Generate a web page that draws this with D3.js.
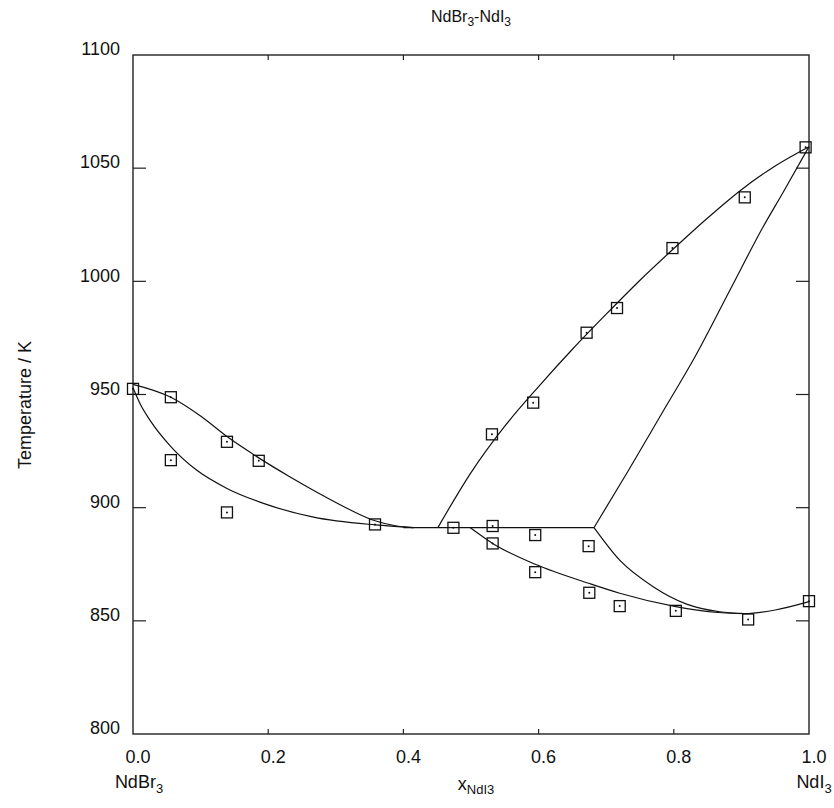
<!DOCTYPE html>
<html><head><meta charset="utf-8">
<script src="https://cdn.jsdelivr.net/npm/d3@7"></script>
<style>
html,body{margin:0;padding:0;background:#fff;}
svg text{font-family:"Liberation Sans",Arial,Helvetica,sans-serif;fill:#111;}
</style></head>
<body><svg id="c" width="834" height="808"></svg>
<script>
// ---- data ----
const xTicks = [0.0, 0.2, 0.4, 0.6, 0.8, 1.0];
const yTicks = [800, 850, 900, 950, 1000, 1050, 1100];

// experimental points
const expX = [0.0, 0.056, 0.056, 0.139, 0.139, 0.186, 0.358, 0.474, 0.531, 0.532, 0.532, 0.592, 0.595, 0.595,
              0.671, 0.674, 0.675, 0.716, 0.720, 0.798, 0.803, 0.905, 0.910, 0.995, 1.0];
const expT = [952.5, 948.8, 921.0, 929.1, 897.9, 920.7, 892.6, 891.1, 932.4, 891.9, 884.2, 946.4, 887.9, 871.5,
              977.3, 883.0, 862.4, 988.2, 856.5, 1014.7, 854.4, 1037.1, 850.6, 1059.2, 858.7];

// left liquidus
const liqLX = [0.0, 0.056, 0.10, 0.139, 0.186, 0.23, 0.272, 0.318, 0.358, 0.39, 0.415];
const liqLT = [954.5, 948.8, 940.5, 931.4, 922.0, 914.0, 906.8, 899.5, 894.2, 891.9, 891.2];
// left solidus
const solLX = [0.0, 0.012, 0.025, 0.056, 0.094, 0.139, 0.193, 0.267, 0.358, 0.415];
const solLT = [953.0, 945.0, 938.7, 927.0, 916.6, 908.5, 901.9, 895.8, 892.4, 891.2];
// eutectic / peritectic horizontal
const hLineX = [0.40, 0.682];
const hLineT = [891.2, 891.2];
// right liquidus (upper)
const liqRX = [0.451, 0.50, 0.55, 0.60, 0.65, 0.70, 0.75, 0.80, 0.85, 0.90, 0.95, 1.0];
const liqRT = [891.2, 915.5, 936.0, 953.5, 970.0, 985.5, 1000.5, 1014.5, 1028.0, 1040.5, 1051.0, 1059.5];
// right solidus (upper)
const solRX = [0.682, 0.732, 0.782, 0.832, 0.882, 0.932, 0.962, 1.0];
const solRT = [891.2, 916.0, 941.5, 967.0, 995.5, 1024.0, 1039.5, 1059.5];
// lower curve (liquidus of low-T solution)
const lowX = [0.4985, 0.532, 0.595, 0.674, 0.72, 0.803, 0.86, 0.905, 0.95, 1.0];
const lowT = [891.2, 884.2, 875.0, 866.6, 862.2, 856.3, 853.8, 853.2, 854.8, 858.5];
// solvus from peritectic down to minimum
const solvX = [0.682, 0.72, 0.77, 0.819, 0.868, 0.905];
const solvT = [891.2, 876.8, 865.0, 857.4, 854.0, 853.2];

const curves = [[liqLX, liqLT], [solLX, solLT], [hLineX, hLineT], [liqRX, liqRT], [solRX, solRT], [lowX, lowT], [solvX, solvT]];

// ---- drawing ----
const svg = d3.select("#c");
const L = 133, R = 809, T = 55, B = 734;
const x = d3.scaleLinear().domain([0, 1]).range([L, R]);
const y = d3.scaleLinear().domain([800, 1100]).range([B, T]);

// frame
svg.append("rect").attr("x", L).attr("y", T).attr("width", R - L).attr("height", B - T)
  .attr("fill", "none").attr("stroke", "#222").attr("stroke-width", 1.4);

// y ticks (inward, both sides)
const yt = yTicks.filter(d => d > 800 && d < 1100);
svg.selectAll(".ytl").data(yt).enter().append("line")
  .attr("x1", L).attr("x2", L + 13).attr("y1", d => y(d)).attr("y2", d => y(d))
  .attr("stroke", "#222").attr("stroke-width", 1.2);
svg.selectAll(".ytr").data(yt).enter().append("line")
  .attr("x1", R).attr("x2", R - 13).attr("y1", d => y(d)).attr("y2", d => y(d))
  .attr("stroke", "#222").attr("stroke-width", 1.2);
// x ticks
const xt = xTicks.filter(d => d > 0 && d < 1);
svg.selectAll(".xtt").data(xt).enter().append("line")
  .attr("x1", d => x(d)).attr("x2", d => x(d)).attr("y1", T).attr("y2", T + 5)
  .attr("stroke", "#222").attr("stroke-width", 1.2);
svg.selectAll(".xtb").data(xt).enter().append("line")
  .attr("x1", d => x(d)).attr("x2", d => x(d)).attr("y1", B).attr("y2", B - 5)
  .attr("stroke", "#222").attr("stroke-width", 1.2);

// tick labels
svg.selectAll(".yl").data(yTicks).enter().append("text")
  .attr("x", 120).attr("y", d => y(d) - 6).attr("dy", "0.35em")
  .attr("text-anchor", "end").attr("font-size", 18).text(d => d);
svg.selectAll(".xl").data(xTicks).enter().append("text")
  .attr("x", d => x(d) + 5).attr("y", 757).attr("dy", "0.35em")
  .attr("text-anchor", "middle").attr("font-size", 18).text(d => d.toFixed(1));

// title
const title = svg.append("text").attr("x", 471).attr("y", 22).attr("text-anchor", "middle").attr("font-size", 16);
title.append("tspan").text("NdBr");
title.append("tspan").attr("font-size", 12).attr("dy", 4).text("3");
title.append("tspan").attr("dy", -4).text("-NdI");
title.append("tspan").attr("font-size", 12).attr("dy", 4).text("3");

// axis titles
svg.append("text").attr("transform", "translate(31,405) rotate(-90)")
  .attr("text-anchor", "middle").attr("font-size", 18).text("Temperature / K");
const xl = svg.append("text").attr("x", 476).attr("y", 790).attr("text-anchor", "middle").attr("font-size", 18);
xl.append("tspan").text("x");
xl.append("tspan").attr("font-size", 13).attr("dy", 4).text("NdI3");
const e1 = svg.append("text").attr("x", 139).attr("y", 788).attr("text-anchor", "middle").attr("font-size", 18);
e1.append("tspan").text("NdBr");
e1.append("tspan").attr("font-size", 13).attr("dy", 5).text("3");
const e2 = svg.append("text").attr("x", 814).attr("y", 788).attr("text-anchor", "middle").attr("font-size", 18);
e2.append("tspan").text("NdI");
e2.append("tspan").attr("font-size", 13).attr("dy", 5).text("3");

// curves
const line = d3.line().x(d => x(d[0])).y(d => y(d[1])).curve(d3.curveMonotoneX);
curves.forEach(([cx, ct]) => {
  svg.append("path").datum(cx.map((v, i) => [v, ct[i]]))
    .attr("d", line).attr("fill", "none").attr("stroke", "#111").attr("stroke-width", 1.2);
});

// markers
const pts = expX.map((v, i) => [v, expT[i]]);
const g = svg.append("g");
g.selectAll("rect").data(pts).enter().append("rect")
  .attr("x", d => x(d[0]) - 5.5).attr("y", d => y(d[1]) - 5.5)
  .attr("width", 11).attr("height", 11)
  .attr("fill", "none").attr("stroke", "#111").attr("stroke-width", 1.3);
g.selectAll("circle").data(pts).enter().append("circle")
  .attr("cx", d => x(d[0])).attr("cy", d => y(d[1])).attr("r", 1)
  .attr("fill", "#111");
</script></body></html>
